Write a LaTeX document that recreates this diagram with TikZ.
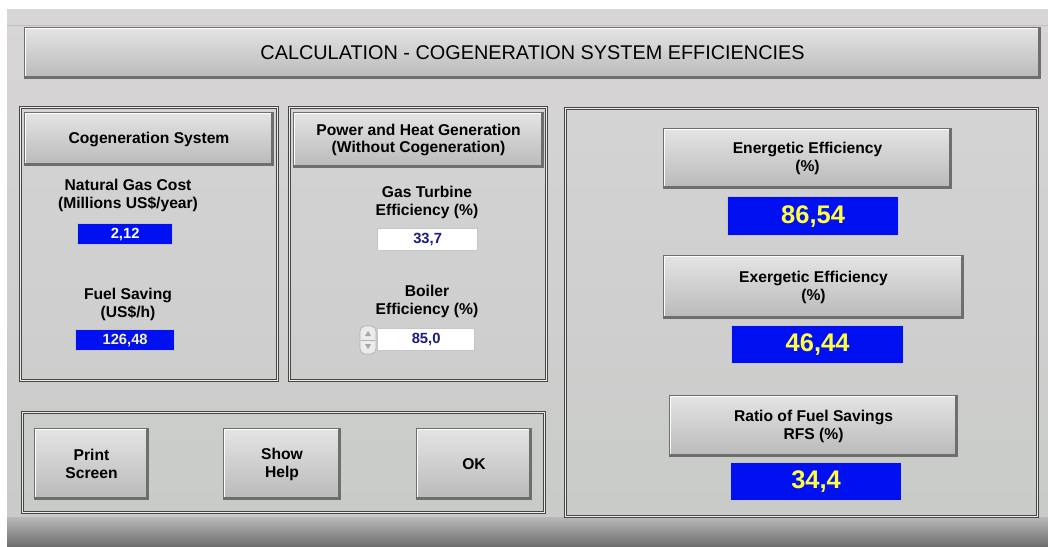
\documentclass[tikz,border=0pt]{standalone}
\usepackage{fontspec}
\newfontfamily\uifont{Liberation Sans}
\newcommand\titlefnt{\uifont\fontsize{11.3}{13}\selectfont}
\newcommand\labelfnt{\uifont\bfseries\fontsize{8.9}{10.2}\selectfont}
\newcommand\smallvalfnt{\uifont\bfseries\fontsize{8.4}{9}\selectfont}
\newcommand\bigvalfnt{\uifont\bfseries\fontsize{14.5}{16}\selectfont}

\definecolor{wintop}{HTML}{D8D5D7}
\definecolor{winbot}{HTML}{C8CBC8}
\definecolor{btntop}{HTML}{E4E4E4}
\definecolor{btnbot}{HTML}{B9B9B9}
\definecolor{btnedge}{HTML}{6E6E6E}
\definecolor{uiblue}{HTML}{0010F0}
\definecolor{valyellow}{HTML}{FFFF40}
\definecolor{paleyellow}{HTML}{F4F4B0}
\definecolor{valdark}{HTML}{1C1C80}

\tikzset{
  bw/.style={minimum width=#1*0.02cm},
  bh/.style={minimum height=#1*0.02cm},
  bevel/.style={path picture={
      \draw[white, line width=2pt] (path picture bounding box.south west)
        -- (path picture bounding box.north west) -- (path picture bounding box.north east);
      \draw[btnedge, line width=3pt] (path picture bounding box.south west)
        -- (path picture bounding box.south east) -- (path picture bounding box.north east);
    }},
  btn/.style={anchor=north west, inner sep=0pt, align=center, font=\labelfnt,
    top color=btntop, bottom color=btnbot, draw=btnedge, line width=0.6pt, bevel},
  panel/.style={anchor=north west, draw=gray!55!black, line width=0.45pt,
    double=white!85!gray, double distance=0.7pt},
  lbl/.style={align=center, font=\labelfnt, inner sep=0pt},
  bluebox/.style={anchor=north west, fill=uiblue, draw=gray!45, line width=0.7pt,
    inner sep=0pt, text=valyellow, font=\bigvalfnt},
  whitebox/.style={anchor=north west, fill=white, draw=gray!45, line width=0.7pt,
    inner sep=0pt, text=valdark, font=\smallvalfnt},
}

\begin{document}
\begin{tikzpicture}[x=0.02cm, y=-0.02cm]
\useasboundingbox[fill=white] (0,0) rectangle (1048,547);
\shade[top color=wintop, bottom color=winbot] (7,10) rectangle (1048,517);
\shade[top color=gray!55, bottom color=gray!85!black] (7,517) rectangle (1048,547);
\draw[gray!50, line width=0.5pt] (7,25) -- (1048,25);

% title bar
\node[btn, bw=1016, bh=51, font=\titlefnt] (title) at (24,27)
  {CALCULATION - COGENERATION SYSTEM EFFICIENCIES};

% cogeneration system
\node[panel, bw=257, bh=273] (cogpanel) at (20,107) {};
\node[btn, bw=249, bh=53] (cogbtn) at (24,112) {Cogeneration System};
\node[lbl] (gascost) at (128,195) {Natural Gas Cost\\(Millions US\$/year)};
\node[bluebox, bw=95, bh=21, font=\smallvalfnt, text=white] (gascostval) at (77,223) {2,12};
\node[lbl] (fuelsave) at (128,304) {Fuel Saving\\(US\$/h)};
\node[bluebox, bw=99, bh=21, font=\smallvalfnt, text=paleyellow] (fuelsaveval) at (75,329) {126,48};

% without cogeneration
\node[panel, bw=257, bh=273] (sepanel) at (289,107) {};
\node[btn, bw=250, bh=55] (sebtn) at (293,112) {Power and Heat Generation\\(Without Cogeneration)};
\node[lbl] (turbine) at (427,202) {Gas Turbine\\Efficiency (\%)};
\node[whitebox, bw=100, bh=22] (turbineval) at (377,228) {33,7};
\node[lbl] (boiler) at (427,301) {Boiler\\Efficiency (\%)};
\node[whitebox, bw=97, bh=22] (boilerval) at (377,328) {85,0};
\draw[fill=gray!15, draw=gray!60, rounded corners=3pt] (360,326) rectangle (376,354);
\draw[gray!60, line width=0.4pt] (361,340) -- (375,340);
\fill[gray!70] (365,336) -- (371,336) -- (368,331) -- cycle;
\fill[gray!70] (365,344) -- (371,344) -- (368,349) -- cycle;

% buttons
\node[panel, bw=522, bh=100] (btnpanel) at (22,412) {};
\node[btn, bw=114, bh=71] (print) at (34,428) {Print\\Screen};
\node[btn, bw=117, bh=71] (help) at (223,428) {Show\\Help};
\node[btn, bw=115, bh=71] (ok) at (416,428) {OK};

% results
\node[panel, bw=472, bh=408] (respanel) at (565,108) {};
\node[btn, bw=288, bh=60] (energbtn) at (663,128) {Energetic Efficiency\\(\%)};
\node[bluebox, bw=171, bh=39] (energval) at (727,196) {86,54};
\node[btn, bw=300, bh=63] (exergbtn) at (663,255) {Exergetic Efficiency\\(\%)};
\node[bluebox, bw=172, bh=38] (exergval) at (731,325) {46,44};
\node[btn, bw=288, bh=61] (rfsbtn) at (669,395) {Ratio of Fuel Savings\\RFS (\%)};
\node[bluebox, bw=171, bh=38] (rfsval) at (730,462) {34,4};
\end{tikzpicture}
\end{document}
